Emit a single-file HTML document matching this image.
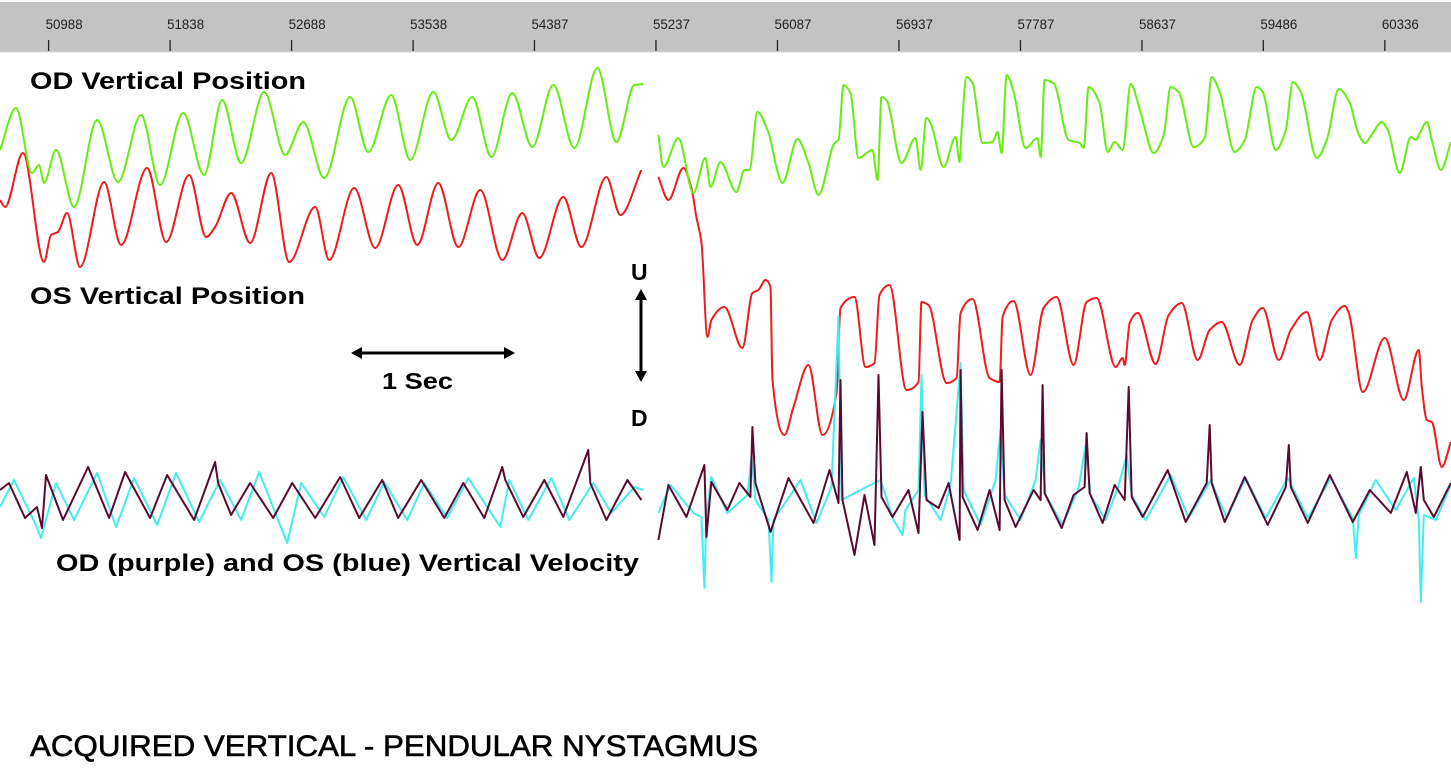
<!DOCTYPE html>
<html><head><meta charset="utf-8"><style>
html,body{margin:0;padding:0;background:#fff;}
svg{display:block;}
.lbl{font-family:"Liberation Sans",Arial,sans-serif;font-weight:bold;fill:#000;}
</style></head><body>
<svg id="chart" width="1451" height="775" viewBox="0 0 1451 775">
<rect x="0" y="0" width="1451" height="775" fill="#fff"/>
<rect x="0" y="2" width="1451" height="50" fill="#c3c3c3"/>
<line x1="0" y1="52" x2="1451" y2="52" stroke="#d8d8d8" stroke-width="1"/>
<g id="ticks"></g>
<g id="traces"></g>
<text class="lbl" x="30" y="89" font-size="24" textLength="276" lengthAdjust="spacingAndGlyphs">OD Vertical Position</text>
<text class="lbl" x="30" y="304" font-size="24" textLength="275" lengthAdjust="spacingAndGlyphs">OS Vertical Position</text>
<g>
<line x1="358" y1="353" x2="508" y2="353" stroke="#000" stroke-width="3"/>
<polygon points="351,353 362,347 362,359" fill="#000"/>
<polygon points="515,353 504,347 504,359" fill="#000"/>
<text class="lbl" x="382" y="389" font-size="23" textLength="71" lengthAdjust="spacingAndGlyphs">1 Sec</text>
</g>
<g>
<line x1="641" y1="297" x2="641" y2="374" stroke="#000" stroke-width="3"/>
<polygon points="641,289 635,300 647,300" fill="#000"/>
<polygon points="641,382 635,371 647,371" fill="#000"/>
<text class="lbl" x="631" y="280" font-size="23">U</text>
<text class="lbl" x="631" y="426" font-size="23">D</text>
</g>
<text class="lbl" x="56" y="571" font-size="24" textLength="583" lengthAdjust="spacingAndGlyphs">OD (purple) and OS (blue) Vertical Velocity</text>
<text x="30" y="756" font-family="'Liberation Sans',Arial,sans-serif" font-size="30" fill="#000" stroke="#000" stroke-width="0.6" textLength="728" lengthAdjust="spacingAndGlyphs">ACQUIRED VERTICAL - PENDULAR NYSTAGMUS</text>
</svg>
<script>
// Tick labels (sample numbers)
const tickSamples = [50988,51838,52688,53538,54387,55237,56087,56937,57787,58637,59486,60336];

// Time in decimated frames (1 frame = 7 samples, frame 0 = sample 50648)
const odPosLeftT = [0,16,32,39,44,56,74,97,118,141,160,183,204,222,241,264,285,303,324,350,368,391,410,433,451,472,491,512,532,553,574,597,616,634,643];
const odPosLeftV = [50,92,27,35,17,50,-7,80,18,85,15,87,25,100,37,108,45,78,22,103,48,105,40,108,60,103,43,107,53,115,52,132,58,115,116];
const odPosRightT = [658,663,678,693,705,710,720,736,744,749,757,767,782,797,808,818,834,838,843,850,858,872,877,881,886,901,915,920,926,930,943,955,959,961,966,972,982,992,997,1001,1006,1013,1025,1037,1040,1044,1053,1068,1079,1083,1088,1099,1107,1114,1122,1130,1140,1153,1163,1170,1178,1193,1204,1211,1219,1234,1244,1256,1262,1275,1285,1292,1300,1316,1326,1338,1349,1357,1364,1372,1381,1387,1399,1410,1415,1419,1426,1431,1440,1450];
const odPosRightV = [65,33,62,7,42,13,38,8,30,30,88,70,17,61,37,5,57,60,115,107,42,50,20,103,100,37,62,30,82,77,33,63,38,70,123,117,57,58,68,47,125,108,52,62,43,120,117,60,57,52,113,97,48,58,50,116,87,47,65,113,108,53,62,123,108,48,60,113,108,50,70,118,108,42,60,111,97,68,57,67,78,70,27,63,60,67,78,60,30,58];

const osPosLeftT = [0,5,23,44,51,58,67,80,104,121,147,166,189,206,215,231,250,271,289,315,329,354,375,398,417,438,458,480,502,522,539,563,581,606,620,641];
const osPosLeftV = [0,-7,47,-62,-35,-32,-13,-67,18,-45,32,-42,25,-37,-27,7,-43,27,-62,-7,-60,12,-48,15,-45,17,-47,10,-60,-13,-58,3,-47,23,-15,30];
const osPosRightT = [658,668,683,691,696,701,707,711,724,742,752,758,765,770,772,784,793,808,822,836,840,854,865,874,879,889,906,918,921,928,946,956,960,972,989,999,1002,1013,1030,1043,1056,1073,1086,1096,1115,1122,1124,1129,1137,1155,1168,1181,1197,1209,1221,1239,1252,1262,1278,1290,1306,1319,1331,1344,1348,1362,1384,1403,1418,1421,1426,1431,1441,1450];
const osPosRightV = [23,0,32,12,-17,-42,-137,-120,-107,-148,-93,-90,-80,-87,-180,-235,-207,-165,-235,-193,-108,-97,-167,-163,-95,-85,-190,-182,-102,-105,-183,-178,-113,-99,-178,-182,-117,-101,-175,-108,-97,-165,-102,-98,-167,-158,-165,-123,-113,-164,-115,-103,-160,-130,-122,-165,-120,-108,-160,-130,-112,-160,-120,-106,-113,-192,-138,-200,-150,-187,-220,-222,-267,-242];

const osVelLeftT = [0,14,35,41,56,74,97,116,134,157,176,199,220,241,259,287,301,324,343,366,384,407,424,447,468,500,509,528,551,569,593,611,634,643];
const osVelLeftV = [-7,20,-23,-38,17,-20,27,-27,22,-25,27,-22,20,-20,28,-43,17,-17,23,-20,18,-20,17,-18,22,-27,20,-20,22,-20,17,-13,13,10];
const osVelRightT = [658,670,693,701,704,706,711,727,747,751,755,768,771,773,800,816,831,838,841,860,880,893,902,905,918,921,924,940,950,960,963,980,995,1000,1004,1020,1035,1040,1045,1062,1078,1085,1090,1105,1118,1126,1131,1145,1170,1188,1210,1226,1245,1265,1287,1307,1330,1352,1355,1358,1375,1395,1413,1418,1420,1423,1435,1450];
const osVelRightV = [-13,15,-13,-17,-88,-17,23,-13,5,43,0,-20,-82,-20,20,-23,13,184,0,10,20,-20,-35,-10,10,125,5,-20,15,137,10,-25,20,70,5,-20,20,60,5,-25,12,55,5,-20,15,45,5,-20,25,-18,20,-18,22,-18,22,-18,22,-18,-58,-15,20,-10,22,-20,-102,-15,-20,15];

const odVelLeftT = [0,9,25,37,42,46,63,88,109,125,150,167,194,215,218,231,250,273,292,315,340,359,382,398,421,444,463,484,502,505,523,544,563,588,590,606,627,641];
const odVelLeftV = [10,17,-18,-7,-28,25,-20,33,-18,28,-18,25,-20,38,17,-15,17,-18,17,-18,23,-18,20,-18,20,-18,17,-18,33,20,-17,20,-17,50,17,-20,20,0];
const odVelRightT = [658,668,686,704,706,711,727,739,750,752,755,770,788,813,829,838,840,842,854,864,874,878,881,892,908,918,922,926,938,948,959,960,962,977,989,999,1001,1004,1015,1033,1040,1042,1044,1061,1073,1084,1086,1089,1102,1114,1124,1128,1131,1142,1167,1185,1206,1209,1211,1224,1244,1267,1285,1288,1290,1307,1329,1352,1369,1390,1406,1415,1420,1423,1433,1450];
const odVelRightV = [-40,15,-17,35,-37,18,-10,17,3,73,17,-32,22,-23,30,-3,120,0,-55,5,-45,125,3,-17,10,-33,88,0,-8,17,-40,130,3,-30,10,-30,130,0,-27,10,0,115,7,-28,5,13,67,7,-23,15,0,113,3,-17,30,-22,17,75,17,-22,23,-25,13,55,13,-23,25,-22,10,-13,28,-13,33,0,-17,17];

const NS = 'http://www.w3.org/2000/svg';
function sampleX(s){ return 48.6 + (s - 50988) * 121.5 / 850; }
function frameX(f){ return sampleX(50648 + 7 * f); }
function posY(v){ return 200 - v; }
function velY(v){ return 500 - v; }

const tickG = document.getElementById('ticks');
tickSamples.forEach(function(s){
  const x = sampleX(s);
  const ln = document.createElementNS(NS,'line');
  ln.setAttribute('x1',x); ln.setAttribute('x2',x);
  ln.setAttribute('y1',40); ln.setAttribute('y2',51);
  ln.setAttribute('stroke','#222'); ln.setAttribute('stroke-width','1.3');
  
  
  tickG.appendChild(ln);
  const t = document.createElementNS(NS,'text');
  t.setAttribute('x',x-3); t.setAttribute('y',29);
  t.setAttribute('font-family','"Liberation Sans", sans-serif');
  t.setAttribute('font-size','14'); t.setAttribute('fill','#222');
  t.setAttribute('textLength','37'); t.setAttribute('lengthAdjust','spacingAndGlyphs');
  t.textContent = String(s);
  
  
  tickG.appendChild(t);
});

const tr = document.getElementById('traces');
function monotonePath(xs, ys){
  const n = xs.length;
  if(n < 2) return '';
  const dx = [], m = [], s = [];
  for(let i=0;i<n-1;i++){ dx[i] = xs[i+1]-xs[i] || 0.001; s[i] = (ys[i+1]-ys[i])/dx[i]; }
  m[0] = s[0]; m[n-1] = s[n-2];
  for(let i=1;i<n-1;i++){
    if(s[i-1]*s[i] <= 0) m[i] = 0;
    else { const w1 = 2*dx[i]+dx[i-1], w2 = dx[i]+2*dx[i-1]; m[i] = (w1+w2)/(w1/s[i-1]+w2/s[i]); }
  }
  let d = 'M' + xs[0].toFixed(1) + ',' + ys[0].toFixed(1);
  for(let i=0;i<n-1;i++){
    const h = dx[i]/3;
    d += 'C' + (xs[i]+h).toFixed(1) + ',' + (ys[i]+m[i]*h).toFixed(1) + ' ' +
         (xs[i+1]-h).toFixed(1) + ',' + (ys[i+1]-m[i+1]*h).toFixed(1) + ' ' +
         xs[i+1].toFixed(1) + ',' + ys[i+1].toFixed(1);
  }
  return d;
}
function drawLine(ts, vs, yf, color, w, name, smooth){
  const n = Math.min(ts.length, vs.length);
  const xs = [], ys = [];
  for(let i=0;i<n;i++){ xs.push(frameX(ts[i])); ys.push(yf(vs[i])); }
  let d = '';
  if(smooth) d = monotonePath(xs, ys);
  else for(let i=0;i<n;i++){ d += (i?'L':'M') + xs[i].toFixed(1) + ',' + ys[i].toFixed(1); }
  const p = document.createElementNS(NS,'path');
  p.setAttribute('d', d);
  p.setAttribute('fill','none');
  p.setAttribute('stroke', color);
  p.setAttribute('stroke-width', w);
  p.setAttribute('stroke-linejoin','round');
  
  
  tr.appendChild(p);
}
drawLine(osPosLeftT, osPosLeftV, posY, '#ee1c1c', 2, 'os-position-left', true);
drawLine(osPosRightT, osPosRightV, posY, '#ee1c1c', 2, 'os-position-right', true);
drawLine(odPosLeftT, odPosLeftV, posY, '#66ee11', 2, 'od-position-left', true);
drawLine(odPosRightT, odPosRightV, posY, '#66ee11', 2, 'od-position-right', true);
drawLine(osVelLeftT, osVelLeftV, velY, '#44eeee', 2, 'os-velocity-left', false);
drawLine(osVelRightT, osVelRightV, velY, '#44eeee', 2, 'os-velocity-right', false);
drawLine(odVelLeftT, odVelLeftV, velY, '#5a0a30', 2, 'od-velocity-left', false);
drawLine(odVelRightT, odVelRightV, velY, '#5a0a30', 2, 'od-velocity-right', false);
</script>
</body></html>
